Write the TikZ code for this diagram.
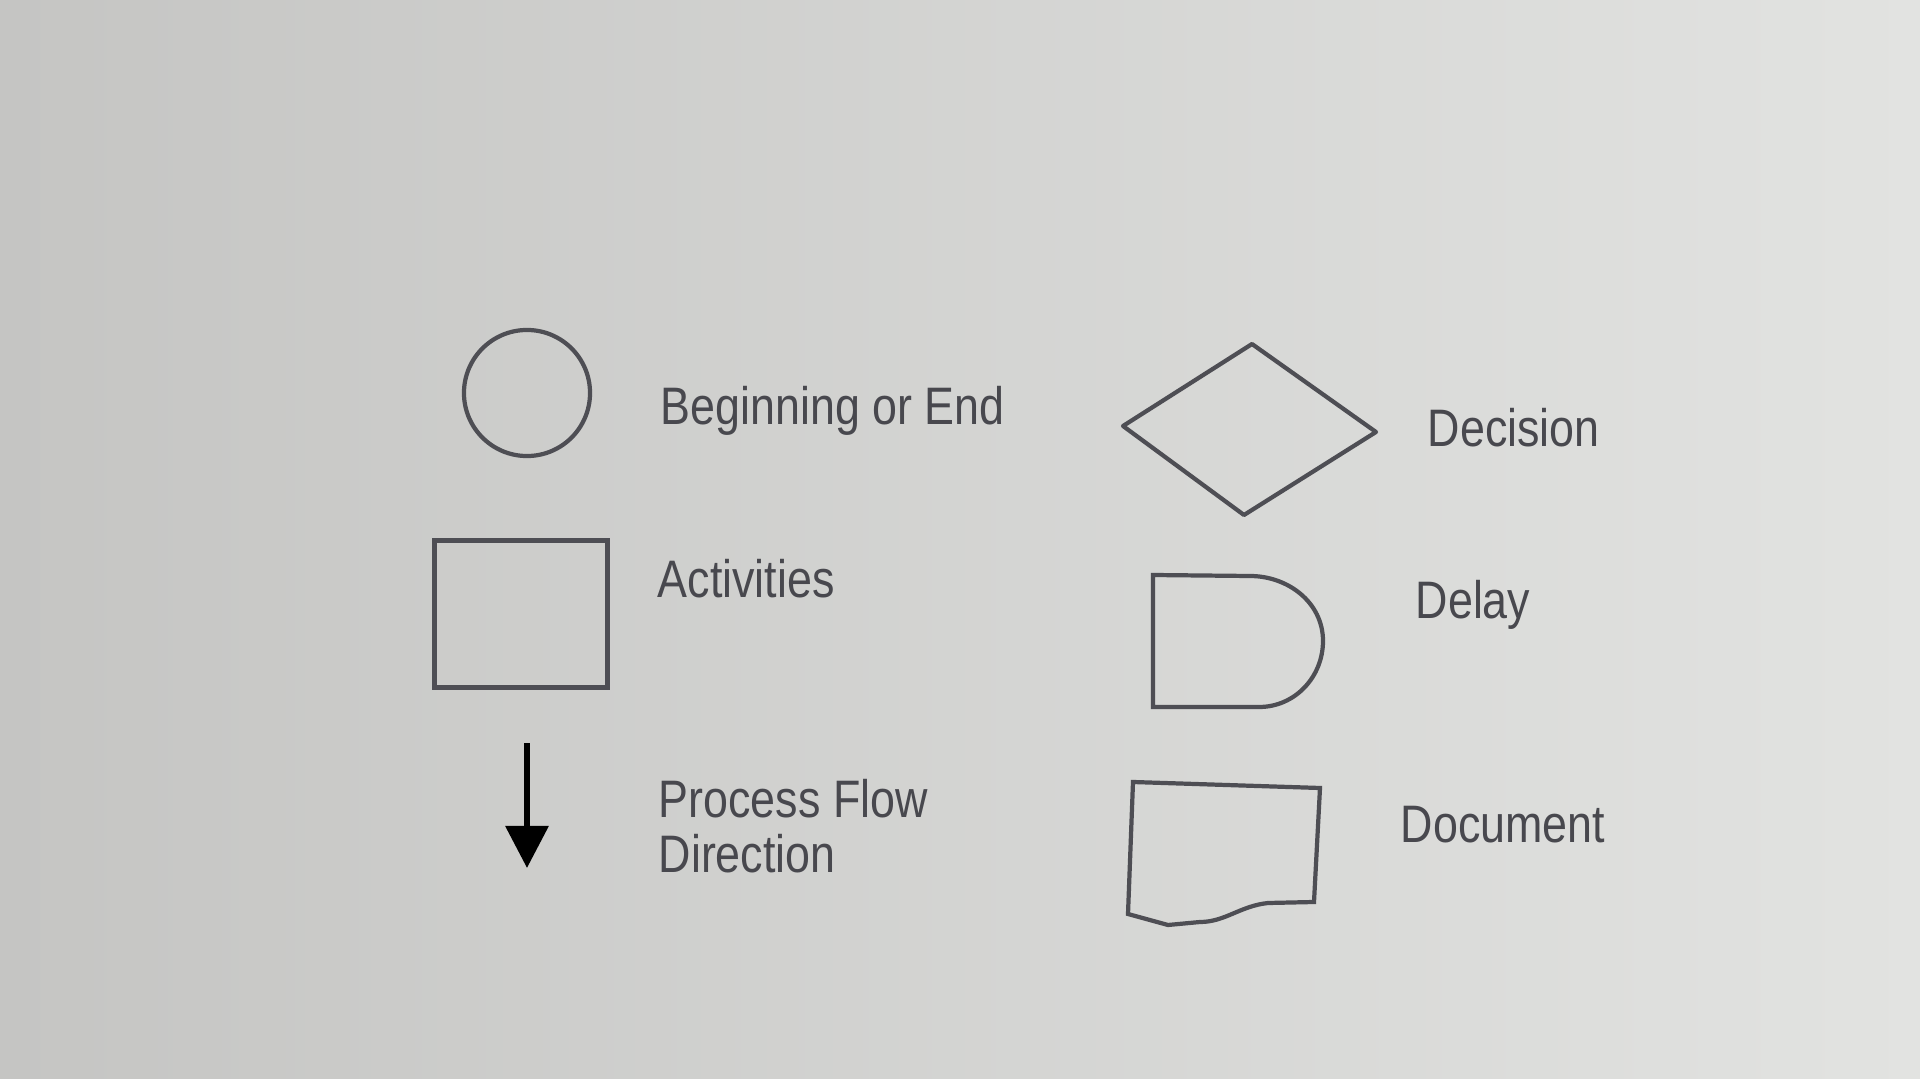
\documentclass[tikz,border=0pt]{standalone}
\usepackage{fontspec}
\setmainfont{Liberation Sans}
\usetikzlibrary{arrows.meta}
\definecolor{screen}{RGB}{214,214,212}
\definecolor{screenhi}{RGB}{226,227,225}
\definecolor{ink}{RGB}{72,72,78}
\definecolor{edge}{RGB}{78,78,84}
\newcommand{\lbltext}[1]{\scalebox{0.85}[1]{#1}}
\tikzset{
	lbl/.style={anchor=base west, inner sep=0pt, text=ink, font=\fontsize{15}{17}\selectfont},
	symb/.style={draw=edge, line width=1.2pt},
	flow/.style={-{Triangle[length=12pt,width=12pt]}, line width=1.8pt, black}
}
\begin{document}
\begin{tikzpicture}[x=0.01cm,y=-0.01cm]
	\useasboundingbox (0, 0) rectangle (1920, 1079);
	\shade [left color=screen!92!black, right color=screenhi] (0, 0) rectangle (1920, 1079);

	% left column
	\node [symb, circle, minimum size=1.26cm, inner sep=0pt] (beg) at (527, 393) {};
	\node [lbl] (begtext) at (660, 425) {\lbltext{Beginning or End}};

	\node [symb, rectangle, minimum width=1.73cm, minimum height=1.47cm, inner sep=0pt] (act) at (521, 614) {};
	\node [lbl] (acttext) at (657, 597) {\lbltext{Activities}};

	\coordinate (flowtop) at (527, 743);
	\coordinate (flowtip) at (527, 868);
	\draw [flow] (flowtop) -- (flowtip);
	\node [lbl] (flowtext) at (658, 817) {\lbltext{Process Flow}};
	\node [lbl] (dirtext) at (658, 872) {\lbltext{Direction}};

	% right column
	\draw [symb, line join=round] (1123, 426) -- (1252, 344) -- (1376, 432) -- (1244, 515) -- cycle;
	\node [lbl] (dectext) at (1427, 447) {\lbltext{Decision}};

	\draw [symb] (1153, 575) -- (1250, 576)
		to [out=0, in=90] (1323, 641)
		to [out=-90, in=0] (1259, 707)
		-- (1153, 707) -- cycle;
	\node [lbl] (delaytext) at (1415, 618) {\lbltext{Delay}};

	\draw [symb] (1133, 782) -- (1320, 788) -- (1314, 902) -- (1268, 903)
		.. controls (1240, 906) and (1225, 922) .. (1200, 922)
		-- (1168, 925) -- (1128, 914) -- cycle;
	\node [lbl] (doctext) at (1400, 842) {\lbltext{Document}};
\end{tikzpicture}
\end{document}
